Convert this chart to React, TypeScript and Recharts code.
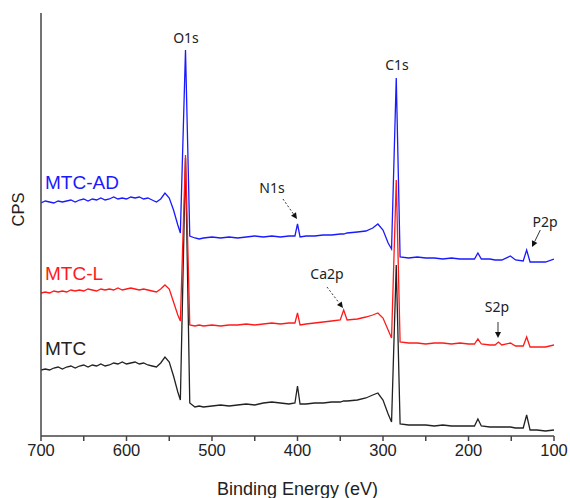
import React from 'react';
import { LineChart, Line, XAxis, YAxis, ReferenceDot, ReferenceLine } from 'recharts';

const energies = [700,695,690,685,680,675,670,665,660,655,650,645,640,635,630,625,620,615,610,605,600,595,590,585,580,575,570,565,560,555,550,545,540,537,531,526,520,515,510,500,490,480,470,460,450,440,430,420,410,403,400,397,390,380,370,360,350,346,342,330,320,312,306,300,294,290,284.5,280,270,260,250,240,230,220,210,200,193,189,185,175,169,165,161,151,145,136,132,128,120,110,100];

const mtcAD = [233,235,234,233,235,234,235,236,234,236,237,235,237,236,238,236,237,239,237,238,237,239,238,239,237,238,236,234,237,243,238,226,211,203,386,200,198,197,198,199,198,199,198,199,200,199,200,199,200,200,212,199,200,200,201,201,202,202,203,204,205,208,212,206,193,187,358,179,178,179,178,178,177,178,177,177,177,183,177,177,176,176,176,180,176,175,186,174,174,174,177];

const mtcL = [143,144,143,145,144,145,144,146,145,146,145,147,146,145,147,146,147,146,148,146,147,148,147,146,147,146,145,144,147,151,147,134,121,115,281,111,110,111,110,111,110,111,111,112,111,112,113,112,113,113,123,111,112,113,114,115,116,126,116,117,119,121,123,118,106,98,256,94,93,93,92,93,93,92,93,92,92,97,92,91,91,94,91,93,90,90,99,89,89,89,91];

const mtc = [66,67,66,68,69,67,69,70,68,70,71,69,71,70,72,70,71,73,72,74,72,73,74,72,73,71,70,69,73,79,74,60,44,36,278,33,29,30,29,30,31,30,31,32,31,33,34,33,32,33,50,32,32,33,33,34,34,35,35,36,38,41,43,36,22,14,171,12,11,11,11,10,11,10,10,10,10,17,10,9,9,9,9,9,8,8,21,6,6,5,6];

const xTicks = [700,650,600,550,500,450,400,350,300,250,200,150,100];

const data = energies.map((e, i) => ({ e, ad: mtcAD[i], l: mtcL[i], m: mtc[i] }));

const peakLabels = [
  { text: 'O1s', x: 530.4, y: 399 },
  { text: 'C1s', x: 283.6, y: 372 },
  { text: 'N1s', x: 429.8, y: 249 },
  { text: 'Ca2p', x: 365.5, y: 163 },
  { text: 'S2p', x: 166.7, y: 130 },
  { text: 'P2p', x: 110.5, y: 215 },
];

const seriesLabels = [
  { text: 'MTC-AD', x: 695.3, y: 254, color: '#1a1aff' },
  { text: 'MTC-L', x: 695.3, y: 163, color: '#ff1a1a' },
  { text: 'MTC', x: 695.3, y: 88, color: '#222222' },
];

const arrows = [
  { x1: 417, y1: 237, x2: 400.6, y2: 217, dashed: true },
  { x1: 365.5, y1: 149, x2: 346.8, y2: 128, dashed: true },
  { x1: 165.5, y1: 114, x2: 165.5, y2: 98, dashed: false },
  { x1: 116, y1: 206, x2: 125.7, y2: 189, dashed: false },
];

const ArrowShape = (props: any) => {
  const { x1, y1, x2, y2, dashed } = props;
  if ([x1, y1, x2, y2].some((v) => typeof v !== 'number' || isNaN(v))) return null;
  const dx = x2 - x1;
  const dy = y2 - y1;
  const len = Math.sqrt(dx * dx + dy * dy) || 1;
  const ux = dx / len;
  const uy = dy / len;
  const hl = 6;
  const hw = 3;
  const bx = x2 - ux * hl;
  const by = y2 - uy * hl;
  const pts = `${x2},${y2} ${bx - uy * hw},${by + ux * hw} ${bx + uy * hw},${by - ux * hw}`;
  return (
    <g>
      <line x1={x1} y1={y1} x2={bx} y2={by} stroke="#333" strokeWidth={1} strokeDasharray={dashed ? '2 2' : undefined} />
      <polygon points={pts} fill="#111" />
    </g>
  );
};

export default function App() {
  return (
    <div style={{ position: 'absolute', left: 0, top: 0, width: 570, height: 498, background: '#fff' }}>
      <LineChart width={570} height={498} data={data} margin={{ top: 13, right: 16, bottom: 0, left: 0 }}>
        <XAxis
          type="number"
          dataKey="e"
          domain={[100, 700]}
          reversed
          ticks={xTicks}
          interval={0}
          tickFormatter={(v: number) => (v % 100 === 0 ? String(v) : '')}
          tickSize={5}
          tickMargin={3}
          height={62}
          allowDataOverflow
          axisLine={{ stroke: '#444', strokeWidth: 1.5 }}
          tickLine={{ stroke: '#444', strokeWidth: 1.5 }}
          tick={{ fontSize: 16.5, fill: '#222', fontFamily: 'Liberation Sans, Arial, sans-serif' }}
          label={{
            content: (p: any) => {
              const vb = p.viewBox;
              return (
                <text x={vb.x + vb.width / 2} y={vb.y + 53} textAnchor="middle" dominantBaseline="central" fontSize={18} fill="#222" fontFamily="Liberation Sans, Arial, sans-serif">
                  Binding Energy (eV)
                </text>
              );
            },
          }}
        />
        <YAxis
          type="number"
          domain={[0, 423]}
          width={41}
          tick={false}
          tickLine={false}
          allowDataOverflow
          axisLine={{ stroke: '#444', strokeWidth: 1.5 }}
          label={{
            content: (p: any) => {
              const vb = p.viewBox;
              const cx = 18;
              const cy = vb.y + vb.height / 2 - 15;
              return (
                <text x={cx} y={cy} transform={`rotate(-90 ${cx} ${cy})`} textAnchor="middle" dominantBaseline="central" fontSize={16.5} fill="#222" fontFamily="Liberation Sans, Arial, sans-serif">
                  CPS
                </text>
              );
            },
          }}
        />
        <Line type="linear" dataKey="m" stroke="#222222" strokeWidth={1.3} dot={false} isAnimationActive={false} />
        <Line type="linear" dataKey="l" stroke="#ff1a1a" strokeWidth={1.3} dot={false} isAnimationActive={false} />
        <Line type="linear" dataKey="ad" stroke="#1a1aff" strokeWidth={1.3} dot={false} isAnimationActive={false} />
        {arrows.map((a, i) => (
          <ReferenceLine
            key={'a' + i}
            segment={[{ x: a.x1, y: a.y1 }, { x: a.x2, y: a.y2 }]}
            ifOverflow="visible"
            shape={(p: any) => <ArrowShape {...p} dashed={a.dashed} />}
          />
        ))}
        {peakLabels.map((l, i) => (
          <ReferenceDot
            key={'p' + i}
            x={l.x}
            y={l.y}
            r={0}
            ifOverflow="visible"
            shape={(p: any) => (
              <text x={p.cx} y={p.cy} textAnchor="middle" dominantBaseline="central" fontSize={14} fill="#222" fontFamily="Noto Sans, sans-serif">
                {l.text}
              </text>
            )}
          />
        ))}
        {seriesLabels.map((l, i) => (
          <ReferenceDot
            key={'s' + i}
            x={l.x}
            y={l.y}
            r={0}
            ifOverflow="visible"
            shape={(p: any) => (
              <text x={p.cx} y={p.cy} textAnchor="start" dominantBaseline="central" fontSize={19} fill={l.color} fontFamily="Liberation Sans, Arial, sans-serif">
                {l.text}
              </text>
            )}
          />
        ))}
      </LineChart>
    </div>
  );
}
